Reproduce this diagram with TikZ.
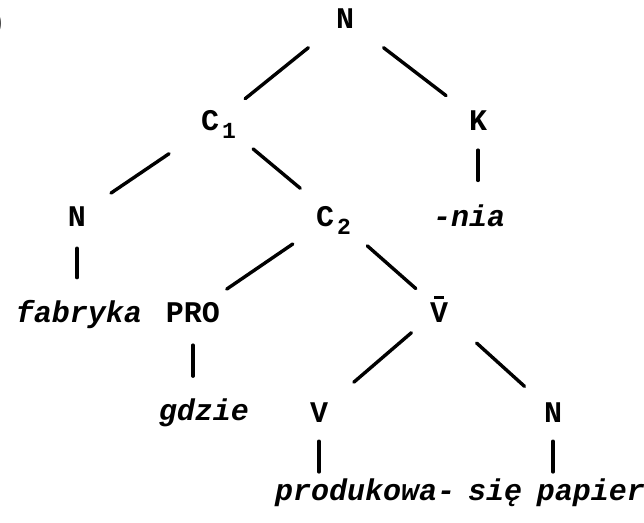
\documentclass[tikz,border=0pt]{standalone}
\usepackage{fontspec}
\usetikzlibrary{calc}
\newfontfamily\tw{Liberation Mono}

% lowered index digit, kept out of the node box
\newcommand\lowsub[1]{\kern3pt\raisebox{-8pt}[0pt][0pt]{\fontsize{23}{23}\selectfont#1}}
% V with a bar over it
\newcommand\barV{\rlap{\kern4pt\raisebox{23pt}{\rule{10pt}{3pt}}}V}
% branch between two nodes, trimmed at both ends
\newcommand\branch[4]{\draw[branch] ($(#1)!#2!(#3)$) -- ($(#1)!#4!(#3)$);}

\begin{document}
\begin{tikzpicture}[x=1pt, y=-1pt,
    cat/.style={font=\fontsize{30}{34}\tw\bfseries, inner sep=0pt, anchor=base},
    word/.style={font=\fontsize{30}{34}\tw\bfseries\itshape, inner sep=0pt, anchor=base},
    branch/.style={line width=3.4pt, line cap=round}]
  \clip (0,0) rectangle (644,522);
  \useasboundingbox (0,0) rectangle (644,522);

  % ── labels, row by row ───────────────────────────────────────────
  \node[cat, anchor=base east] (paren) at (6,31) {)};
  \node[cat] (n0) at (345,28) {N};

  \node[cat, anchor=base west] (c1) at (201,130) {C\lowsub{1}};
  \node[cat] (k) at (478,130) {K};

  \node[cat] (n1) at (77,226) {N};
  \node[cat, anchor=base west] (c2) at (316,226) {C\lowsub{2}};
  \node[word] (nia) at (469,226) {-nia};

  \node[word] (fab) at (79,322) {fabryka};
  \node[cat] (pro) at (193,322) {PRO};
  \node[cat] (vbar) at (439,322) {\barV};

  \node[word] (gdz) at (204,420) {gdzie};
  \node[cat] (v) at (319,422) {V};
  \node[cat] (n2) at (553,422) {N};

  \node[word, anchor=base west] (prod) at (275,500) {produkowa-};
  \node[word, anchor=base west] (sie) at (468,500) {się};
  \node[word, anchor=base east] (pap) at (645,500) {papier};

  % ── slanted branches ─────────────────────────────────────────────
  \branch{n0}{.29}{c1}{.79}
  \branch{n0}{.29}{k}{.76}
  \branch{c1}{.35}{n1}{.76}
  \branch{c1}{.30}{c2}{.71}
  \branch{c2}{.29}{pro}{.76}
  \branch{c2}{.32}{vbar}{.78}
  \branch{vbar}{.23}{v}{.71}
  \branch{vbar}{.33}{n2}{.75}

  % ── straight drops to the words ──────────────────────────────────
  \branch{k.south}{.27}{k.south |- nia.north}{.68}
  \branch{n1.south}{.30}{n1.south |- fab.north}{.70}
  \branch{pro.south}{.30}{pro.south |- gdz.north}{.71}
  \branch{v.south}{.34}{v.south |- prod.north}{.89}
  \branch{n2.south}{.34}{n2.south |- pap.north}{.89}
\end{tikzpicture}
\end{document}
